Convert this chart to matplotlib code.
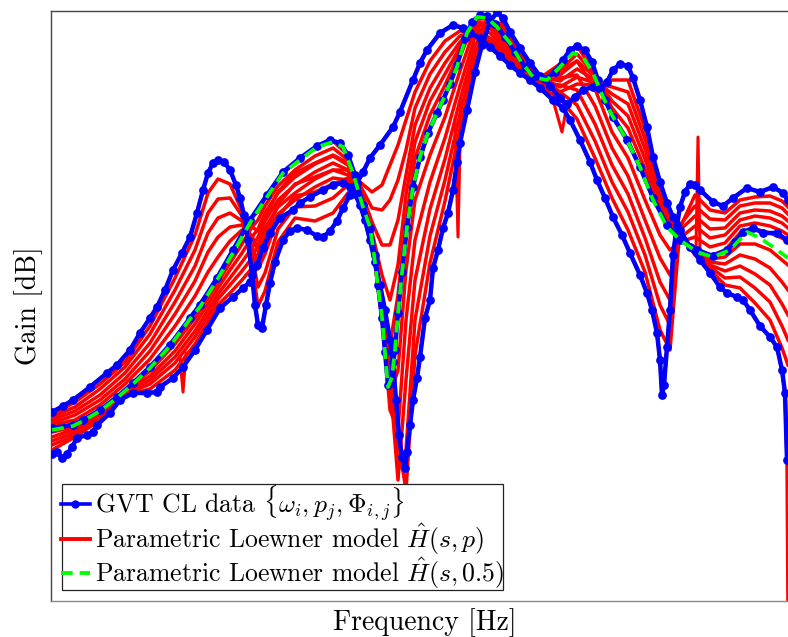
import numpy as np
import matplotlib
matplotlib.use("Agg")
import matplotlib.pyplot as plt
from matplotlib.lines import Line2D

plt.rcParams['font.family'] = 'serif'
plt.rcParams['font.serif'] = ['cmr10']
plt.rcParams['mathtext.fontset'] = 'cm'
plt.rcParams['axes.unicode_minus'] = False
plt.rcParams['axes.formatter.use_mathtext'] = True

# ---------------- GVT data (blue), three parameter values ----------------
freq_A = [5.2, 6.3, 7.3, 9.0, 10.7, 11.7, 13.0, 14.0, 15.0, 15.7,
          16.5, 17.3, 18.2, 19.0, 19.7, 20.3, 20.8, 21.3, 21.8, 22.4,
          23.0, 23.6, 24.0, 24.4, 24.8, 25.2, 25.5, 25.8, 26.2, 26.6,
          27.0, 27.5, 28.3, 29.0, 29.7, 30.7, 31.7, 32.3, 33.0, 33.7,
          34.3, 35.0, 35.7, 36.3, 37.0, 38.0, 39.3, 40.0, 41.3, 42.0,
          42.7, 44.0, 45.3, 46.3, 47.0, 48.0, 49.0, 50.0, 51.0, 52.0,
          53.0, 54.0, 55.3, 56.3, 57.0, 58.0, 59.0, 59.7, 60.5, 61.3,
          62.2, 63.0, 64.0, 64.7, 65.2, 65.7, 66.0, 66.2, 66.4, 66.7,
          67.0, 67.3, 67.7, 68.0, 68.5, 69.0, 69.5, 70.0, 71.3, 72.3,
          73.3, 74.7, 76.0, 77.3, 78.3, 78.8]
gain_A = [-41.2, -40.6, -40.0, -38.7, -37.3, -36.5, -35.0, -33.3, -31.8, -30.7,
          -29.0, -27.0, -25.3, -23.7, -21.3, -19.0, -17.3, -16.3, -16.0, -16.2,
          -17.0, -18.5, -19.8, -21.5, -24.0, -27.5, -30.5, -32.5, -32.8, -30.5,
          -28.3, -26.2, -24.0, -23.1, -22.8, -23.0, -23.6, -23.7, -23.1, -22.1,
          -20.8, -19.5, -18.3, -17.2, -15.8, -14.5, -12.7, -11.2, -8.0, -6.3,
          -5.0, -3.3, -2.5, -2.8, -3.3, -3.8, -4.7, -5.6, -6.5, -7.3,
          -8.0, -8.8, -10.0, -10.8, -12.0, -14.0, -16.2, -18.0, -19.8, -21.7,
          -23.5, -25.3, -27.5, -29.3, -31.0, -33.3, -36.0, -39.5, -38.5, -34.7,
          -31.0, -25.5, -22.5, -20.7, -19.2, -18.4, -18.5, -19.0, -20.2, -20.6,
          -19.8, -18.8, -19.2, -18.7, -19.3, -20.0]

freq_B = [5.2, 5.7, 6.2, 6.7, 7.2, 7.7, 8.7, 9.3, 9.7, 11.0,
          12.0, 13.3, 14.7, 15.7, 16.0, 17.3, 18.3, 19.5, 20.7, 22.0,
          23.3, 24.3, 25.0, 25.7, 26.3, 27.0, 28.0, 29.3, 30.0, 31.0,
          32.3, 33.3, 34.3, 35.0, 35.5, 36.0, 36.5, 37.0, 37.5, 38.0,
          38.5, 39.0, 39.3, 39.6, 39.9, 40.2, 40.5, 40.7, 41.0, 41.3,
          41.7, 42.0, 42.5, 43.0, 43.3, 43.8, 44.3, 44.8, 45.3, 45.7,
          46.0, 46.7, 47.5, 48.2, 49.0, 49.7, 50.3, 51.0, 52.0, 53.0,
          54.0, 55.0, 56.0, 56.7, 57.5, 58.3, 59.3, 60.0, 60.7, 61.3,
          62.0, 62.8, 63.3, 64.0, 64.7, 65.3, 66.0, 66.7, 67.3, 68.0,
          69.0, 70.0, 71.0, 72.0, 72.7, 73.7, 74.3, 75.0, 76.0, 77.0,
          77.7, 78.2, 78.5, 78.7, 78.8]
gain_B = [-45.4, -45.2, -45.8, -45.4, -44.7, -43.8, -43.5, -43.2, -42.5, -41.3,
          -40.0, -39.3, -39.3, -39.2, -38.7, -37.8, -36.7, -35.0, -33.0, -30.8,
          -29.7, -28.8, -28.2, -26.5, -24.8, -23.3, -21.8, -21.0, -20.3, -19.7,
          -19.0, -18.5, -18.3, -18.7, -19.4, -20.5, -22.0, -24.0, -26.2, -28.5,
          -31.0, -34.0, -36.2, -40.0, -43.5, -45.7, -46.8, -45.2, -42.5, -40.0,
          -37.8, -35.7, -31.8, -30.0, -26.8, -25.0, -22.8, -21.3, -19.0, -16.2,
          -14.3, -11.0, -7.2, -4.5, -2.2, -1.2, -1.8, -3.2, -4.8, -6.3,
          -7.6, -8.6, -9.8, -10.4, -9.7, -9.0, -8.7, -8.9, -8.2, -7.0,
          -6.4, -6.6, -7.8, -10.0, -12.7, -15.7, -18.2, -20.3, -21.7, -23.0,
          -24.7, -26.0, -27.3, -28.7, -29.3, -29.7, -30.0, -31.0, -32.6, -33.7,
          -34.7, -37.0, -39.3, -46.0, -61.0]

freq_M = [5.2, 7.3, 8.3, 10.0, 11.7, 13.3, 15.0, 17.0, 19.0, 20.0,
          21.7, 23.3, 25.0, 26.7, 28.3, 30.0, 31.7, 33.0, 34.0, 34.8,
          35.5, 36.3, 37.0, 37.5, 37.8, 38.2, 38.5, 38.8, 39.1, 39.5,
          39.8, 40.2, 40.7, 41.3, 42.0, 42.8, 43.7, 44.3, 45.0, 45.7,
          46.5, 47.2, 48.0, 48.7, 49.5, 50.5, 51.5, 52.5, 53.5, 54.5,
          55.5, 56.3, 57.0, 57.7, 58.5, 59.2, 59.8, 60.5, 61.3, 62.7,
          64.0, 65.3, 66.7, 68.0, 69.7, 71.3, 72.7, 73.5, 74.3, 75.3,
          76.3, 77.7, 78.7]
gain_M = [-42.8, -42.5, -42.0, -41.0, -39.7, -38.3, -36.7, -34.5, -31.8, -30.5,
          -27.8, -25.0, -22.0, -19.5, -17.2, -15.8, -14.6, -14.0, -14.3, -15.5,
          -17.5, -20.5, -22.8, -25.5, -28.5, -31.8, -35.2, -38.5, -37.8, -35.0,
          -31.3, -27.2, -22.7, -18.7, -15.7, -13.3, -11.3, -10.0, -8.4, -6.5,
          -3.8, -2.2, -1.5, -1.6, -2.4, -3.7, -5.2, -6.7, -7.6, -7.9,
          -7.2, -6.0, -5.0, -4.6, -5.0, -6.2, -8.0, -10.0, -11.7, -14.0,
          -16.7, -19.8, -22.5, -24.0, -25.0, -25.6, -25.0, -24.2, -23.2, -22.8,
          -23.3, -23.3, -24.0]

# ---------------- Parametric Loewner model at p = 0.5 (green) ----------------
freq_G = [5.2, 7.3, 8.3, 10.0, 11.7, 13.3, 15.0, 17.0, 19.0, 20.0,
          21.7, 23.3, 25.0, 26.7, 28.3, 30.0, 31.7, 33.3, 34.3, 35.3,
          36.3, 37.0, 37.3, 37.8, 38.2, 38.5, 38.8, 39.2, 39.5, 39.8,
          40.2, 40.7, 41.3, 42.0, 42.8, 43.7, 44.3, 45.7, 46.7, 47.7,
          48.7, 49.7, 51.0, 52.0, 53.3, 54.7, 56.0, 57.3, 58.3, 59.3,
          60.3, 61.3, 62.7, 64.0, 65.3, 66.7, 68.0, 69.7, 71.3, 73.0,
          74.7, 76.0, 77.3, 78.8]
gain_G = [-43.0, -42.6, -42.1, -41.1, -39.8, -38.4, -36.8, -34.6, -31.9, -30.7,
          -28.0, -25.3, -22.3, -19.7, -17.3, -16.0, -14.7, -14.2, -14.7, -17.3,
          -20.7, -22.7, -24.7, -28.7, -31.7, -35.3, -38.7, -37.7, -35.0, -31.3,
          -27.3, -22.7, -18.7, -15.7, -13.3, -11.3, -10.0, -6.7, -3.3, -1.7,
          -1.8, -2.7, -4.3, -6.0, -7.7, -8.0, -6.7, -5.3, -5.7, -7.3,
          -9.7, -11.7, -14.0, -16.7, -20.0, -22.7, -24.0, -25.2, -25.7, -25.0,
          -23.2, -23.8, -24.7, -25.8]

# ---------------- Parametric Loewner model, p sweep (red) ----------------
freq_R = [5.2, 7.5, 10.0, 12.5, 15.0, 17.5, 19.5, 20.8, 21.8, 23.0,
          24.2, 25.2, 25.8, 26.5, 27.8, 29.5, 31.5, 33.3, 34.8, 36.0,
          37.2, 38.2, 39.0, 39.8, 40.6, 41.5, 43.0, 44.5, 46.0, 47.5,
          49.0, 50.5, 52.0, 54.0, 56.0, 57.7, 59.5, 61.2, 62.8, 64.5,
          66.0, 67.0, 68.0, 69.5, 71.0, 72.5, 74.0, 75.5, 77.0, 78.2,
          78.8]
red_p1 = [-41.5, -40.2, -38.4, -36.2, -32.6, -27.8, -23.5, -19.3, -17.9, -18.4,
          -21.1, -26.5, -30.6, -29.1, -24.2, -21.8, -22.1, -21.3, -19.3, -18.2,
          -19.2, -18.5, -16.5, -14.5, -12.0, -9.2, -6.1, -4.1, -3.1, -3.2,
          -4.2, -5.6, -7.1, -8.6, -9.9, -11.9, -15.8, -19.8, -23.0, -27.2,
          -33.0, -35.0, -22.8, -19.5, -21.0, -21.3, -20.0, -19.7, -19.6, -20.1,
          -20.7]
red_p2 = [-41.7, -40.7, -38.9, -36.7, -33.4, -29.0, -25.0, -21.3, -19.9, -19.8,
          -21.6, -25.6, -28.7, -27.3, -22.9, -20.7, -20.6, -19.8, -18.5, -18.5,
          -20.8, -21.0, -20.0, -18.0, -15.0, -10.8, -7.4, -5.2, -3.6, -3.0,
          -3.8, -5.2, -6.9, -8.5, -9.2, -10.5, -14.1, -18.2, -21.2, -25.5,
          -30.5, -32.5, -22.5, -20.6, -21.9, -22.0, -20.6, -20.3, -20.3, -20.8,
          -21.4]
red_p3 = [-42.0, -41.1, -39.5, -37.3, -34.3, -30.2, -26.6, -23.3, -21.8, -21.3,
          -22.1, -24.6, -26.9, -25.4, -21.7, -19.6, -19.2, -18.4, -17.8, -18.8,
          -22.2, -24.5, -24.5, -22.0, -17.5, -12.5, -8.8, -6.3, -4.2, -2.7,
          -3.3, -4.9, -6.7, -8.3, -8.5, -9.0, -12.4, -16.5, -19.4, -23.8,
          -28.2, -30.0, -23.0, -21.6, -22.9, -22.8, -21.3, -21.0, -21.1, -21.6,
          -22.1]
red_p4 = [-42.3, -41.5, -40.0, -37.9, -35.1, -31.4, -28.1, -25.2, -23.7, -22.7,
          -22.5, -23.6, -25.0, -23.5, -20.4, -18.4, -17.7, -17.0, -17.0, -19.0,
          -23.2, -27.5, -30.0, -26.5, -19.5, -14.2, -10.1, -7.4, -4.7, -2.4,
          -2.8, -4.5, -6.4, -8.1, -7.8, -7.5, -10.6, -14.8, -17.6, -22.0,
          -25.8, -27.5, -23.8, -22.6, -23.8, -23.5, -22.0, -21.6, -21.8, -22.3,
          -22.8]
red_p5 = [-42.5, -42.0, -40.5, -38.4, -35.9, -32.6, -29.6, -27.2, -25.7, -24.1,
          -23.0, -22.7, -23.1, -21.7, -19.2, -17.3, -16.3, -15.5, -16.3, -19.3,
          -23.6, -30.0, -34.5, -29.5, -22.0, -15.8, -11.5, -8.5, -5.2, -2.2,
          -2.4, -4.1, -6.2, -8.0, -7.1, -6.1, -8.9, -13.2, -15.8, -20.0,
          -23.5, -25.0, -24.2, -23.7, -24.7, -24.3, -22.6, -22.3, -22.6, -23.1,
          -23.5]
red_p6 = [-42.8, -42.4, -41.0, -39.0, -36.7, -33.8, -31.1, -29.2, -27.6, -25.5,
          -23.5, -21.7, -21.2, -19.8, -17.9, -16.2, -14.8, -14.1, -15.5, -19.5,
          -23.8, -32.0, -38.2, -31.3, -23.5, -17.5, -12.8, -9.6, -5.7, -1.9,
          -1.9, -3.7, -6.0, -7.8, -6.4, -4.6, -7.2, -11.5, -14.0, -17.9,
          -21.1, -22.8, -24.0, -24.7, -25.6, -25.0, -23.3, -22.9, -23.3, -23.8,
          -24.2]
red_p7 = [-43.2, -42.7, -41.2, -39.1, -37.1, -34.4, -31.8, -29.8, -28.2, -26.3,
          -24.4, -22.7, -22.0, -20.6, -18.6, -17.0, -15.6, -14.8, -16.0, -19.7,
          -24.0, -31.8, -39.5, -37.0, -27.0, -20.0, -15.5, -11.7, -7.1, -2.8,
          -2.0, -3.4, -5.8, -7.8, -7.0, -5.4, -7.5, -10.8, -12.8, -16.9,
          -20.6, -22.5, -23.8, -24.9, -25.9, -25.7, -24.4, -24.4, -25.0, -26.0,
          -26.5]
red_p8 = [-43.7, -42.9, -41.4, -39.2, -37.6, -35.1, -32.4, -30.4, -28.8, -27.0,
          -25.3, -23.7, -22.9, -21.3, -19.3, -17.7, -16.4, -15.6, -16.5, -19.8,
          -24.2, -31.5, -41.0, -43.0, -32.0, -24.0, -18.2, -13.8, -8.6, -3.7,
          -2.0, -3.2, -5.6, -7.7, -7.5, -6.1, -7.7, -10.1, -11.6, -15.9,
          -20.1, -22.2, -23.7, -25.0, -26.2, -26.4, -25.5, -25.9, -26.8, -28.2,
          -29.0]
red_p9 = [-44.1, -43.2, -41.6, -39.4, -38.0, -35.7, -33.1, -31.0, -29.4, -27.8,
          -26.2, -24.8, -23.7, -22.1, -20.0, -18.5, -17.2, -16.3, -17.0, -20.0,
          -24.4, -31.0, -38.0, -48.0, -38.0, -28.0, -20.9, -15.9, -10.0, -4.6,
          -2.1, -2.9, -5.4, -7.7, -8.1, -6.9, -8.0, -9.4, -10.4, -14.9,
          -19.7, -21.9, -23.5, -25.2, -26.5, -27.1, -26.6, -27.4, -28.5, -30.4,
          -31.5]
red_p10 = [-44.5, -43.5, -41.8, -39.5, -38.4, -36.3, -33.7, -31.6, -29.9, -28.5,
           -27.1, -25.8, -24.5, -22.8, -20.7, -19.3, -17.9, -17.0, -17.5, -20.2,
           -24.5, -30.5, -36.5, -47.0, -45.0, -32.0, -23.6, -18.0, -11.4, -5.4,
           -2.1, -2.6, -5.2, -7.7, -8.7, -7.7, -8.3, -8.7, -9.2, -13.9,
           -19.2, -21.6, -23.3, -25.4, -26.7, -27.8, -27.7, -28.8, -30.2, -32.6,
           -34.0]
red_p11 = [-45.0, -43.7, -42.0, -39.6, -38.9, -37.0, -34.4, -32.2, -30.5, -29.3,
           -28.0, -26.8, -25.4, -23.6, -21.4, -20.0, -18.7, -17.8, -18.0, -20.3,
           -24.6, -30.0, -35.0, -44.0, -49.0, -35.5, -26.3, -20.1, -12.9, -6.3,
           -2.2, -2.4, -5.0, -7.6, -9.2, -8.4, -8.5, -8.0, -8.0, -12.9,
           -18.7, -21.3, -23.2, -25.5, -27.0, -28.5, -28.8, -30.3, -32.0, -34.8,
           -36.5]
red_curves = [red_p1, red_p2, red_p3, red_p4, red_p5, red_p6,
              red_p7, red_p8, red_p9, red_p10, red_p11]

# narrow spikes seen on individual model curves
spike_freqs = [[18.0, 18.3, 18.6], [45.5, 45.8, 46.1], [69.6, 69.8, 70.0], [55.3, 56.2, 56.6]]
spike_gains = [[-35.7, -39.2, -35.3], [-12.0, -23.7, -10.0], [-25.0, -13.7, -25.2], [-10.0, -13.2, -11.0]]

# ---------------- figure ----------------
W, H = 788, 637
fig = plt.figure(figsize=(W / 100, H / 100), dpi=100)
# the plot box runs past the right edge of the picture, as in the reference
ax = fig.add_axes([51 / W, 36 / H, 748 / W, 590 / H])

RED = (1, 0, 0)
BLUE = (0, 0, 1)
GREEN = (0, 1, 0)

for g in red_curves:
    ax.plot(freq_R, g, color=RED, lw=2.5, solid_joinstyle='round', zorder=2)
ax.plot(freq_A, gain_A, color=RED, lw=2.5, zorder=2)
ax.plot(freq_B, gain_B, color=RED, lw=2.5, zorder=2)
for fx, gy in zip(spike_freqs, spike_gains):
    ax.plot(fx, gy, color=RED, lw=2.2, zorder=2)

blue_kw = dict(color=BLUE, lw=3.2, marker='o', ms=6.3, mec='none',
               solid_joinstyle='round', zorder=3)
ax.plot(freq_A, gain_A, **blue_kw)
ax.plot(freq_B[:-1], gain_B[:-1], **blue_kw)
ax.plot(freq_M, gain_M, **blue_kw)

ax.plot(freq_G, gain_G, color=GREEN, lw=2.7, ls='--', dashes=(3.2, 1.9), zorder=4)

ax.set_xlim(5.1, 79.9)
ax.set_ylim(-60.1, -1.1)
ax.set_xticks([])
ax.set_yticks([])
for name, sp in ax.spines.items():
    sp.set_color('#444444')
    sp.set_linewidth(1.0)
ax.spines['bottom'].set_color('#8a8a8a')

ax.set_xlabel('Frequency [Hz]', fontsize=20, labelpad=5)
ax.set_ylabel('Gain [dB]', fontsize=20, labelpad=6)

handles = [
    Line2D([], [], color=BLUE, lw=2.6, marker='o', ms=6, mec='none'),
    Line2D([], [], color=RED, lw=2.8),
    Line2D([], [], color=GREEN, lw=2.8, ls='--', dashes=(3.0, 1.8)),
]
labels = [r'GVT CL data $\{\omega_i, p_j, \Phi_{i,j}\}$',
          r'Parametric Loewner model $\hat{H}(s,p)$',
          r'Parametric Loewner model $\hat{H}(s,0.5)$']
leg = ax.legend(handles, labels, loc='lower left',
                bbox_to_anchor=(11 / 748, 11 / 590),
                borderaxespad=0, fontsize=18.5, frameon=True, fancybox=False,
                framealpha=1, edgecolor='#222222', handlelength=1.15,
                handletextpad=0.2, labelspacing=-0.05, borderpad=-0.05)
leg.get_frame().set_linewidth(0.9)

fig.savefig('out.png', dpi=100)
